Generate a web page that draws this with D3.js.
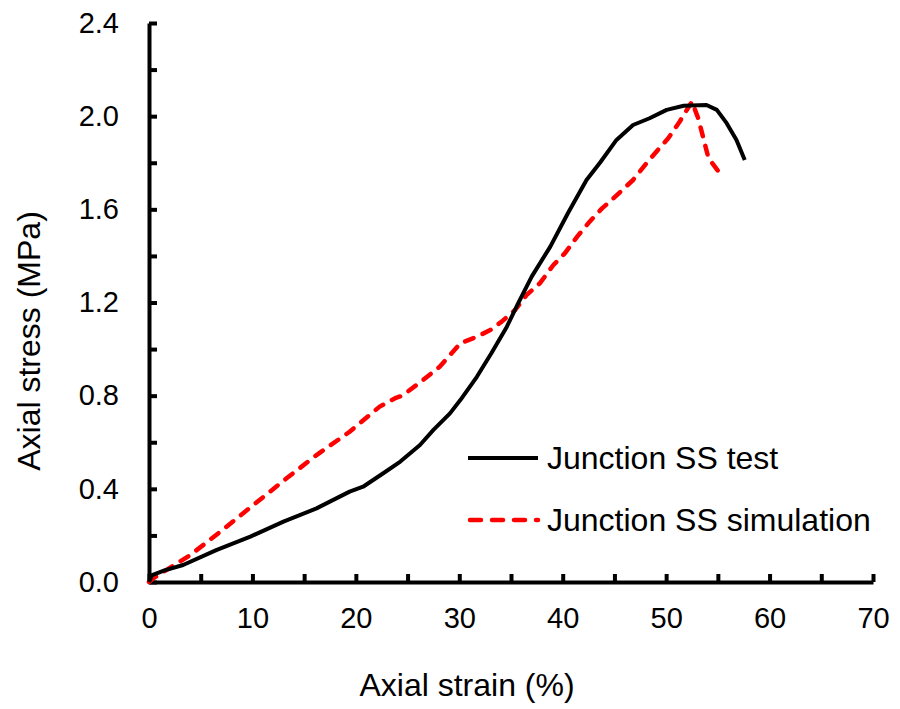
<html>
<head>
<script src="https://d3js.org/d3.v7.min.js"></script>
<style>
body { margin: 0; background: #fff; }
svg { display: block; font-family: 'Liberation Sans', Arial, sans-serif; }
</style>
</head>
<body>
<div id="chart"></div>
<script>
// test curve (black)
var testStrain = [0, 0.3, 1.5, 3.3, 6.5, 9.8, 13.0, 16.2, 19.4, 20.7, 22.65, 24.3, 26.2, 27.5, 29.1, 30.1, 31.7, 33.1, 34.6, 35.7, 37.0, 38.8, 40.5, 42.3, 43.6, 45.2, 46.8, 48.4, 50.05, 51.7, 53.9, 54.9, 55.85, 56.8, 57.6];
var testStress = [0, 0.03, 0.05, 0.073, 0.137, 0.195, 0.259, 0.316, 0.388, 0.409, 0.467, 0.517, 0.588, 0.653, 0.724, 0.781, 0.881, 0.982, 1.096, 1.197, 1.311, 1.44, 1.583, 1.726, 1.80, 1.898, 1.962, 1.991, 2.027, 2.045, 2.048, 2.027, 1.970, 1.898, 1.812];

// simulation curve (red dashed)
var simStrain = [0, 0.4, 2.0, 4.0, 6.9, 10.1, 13.3, 16.2, 19.4, 22.3, 23.8, 24.5, 26.5, 28.1, 30.1, 31.7, 33.0, 34.1, 35.4, 36.5, 37.8, 39.1, 40.2, 41.4, 42.6, 43.8, 44.9, 46.8, 48.1, 49.2, 50.2, 51.3, 52.1, 52.5, 53.1, 54.1, 55.0];
var simStress = [0, 0.016, 0.06, 0.116, 0.216, 0.331, 0.445, 0.545, 0.645, 0.753, 0.789, 0.80, 0.867, 0.924, 1.025, 1.053, 1.082, 1.118, 1.168, 1.232, 1.283, 1.361, 1.411, 1.483, 1.547, 1.604, 1.647, 1.726, 1.798, 1.855, 1.905, 1.976, 2.034, 2.062, 1.991, 1.819, 1.766];

var xTicks = d3.range(0, 71, 5);
var yTicks = d3.range(0, 13).map(function(i){ return i * 0.2; });
var legendNames = ["Junction SS test", "Junction SS simulation"];

var svg = d3.select("#chart").append("svg").attr("width", 900).attr("height", 709);
svg.append("rect").attr("width", 900).attr("height", 709).attr("fill", "#fff");

var x = d3.scaleLinear().domain([0, 70]).range([149, 873]);
var y = d3.scaleLinear().domain([0, 2.4]).range([582, 23]);

function zip(a, b){ return a.map(function(v, i){ return [v, b[i]]; }); }

var line = d3.line()
    .x(function(d){ return x(d[0]); })
    .y(function(d){ return y(d[1]); });

// x axis
var xAxis = svg.append("g").attr("transform", "translate(0,582)")
  .call(d3.axisBottom(x).tickValues(xTicks).tickSize(-8).tickSizeOuter(0).tickPadding(25)
    .tickFormat(function(d){ return d % 10 === 0 ? d : ""; }));

// y axis
var yAxis = svg.append("g").attr("transform", "translate(149,0)")
  .call(d3.axisLeft(y).tickValues(yTicks).tickSize(-8).tickSizeOuter(0).tickPadding(30)
    .tickFormat(function(d, i){ return i % 2 === 0 ? d3.format(".1f")(d) : ""; }));

[xAxis, yAxis].forEach(function(a){
  a.select(".domain").attr("stroke", "#000").attr("stroke-width", 4);
  a.selectAll(".tick line").attr("stroke", "#000").attr("stroke-width", 4);
  a.selectAll(".tick text").attr("fill", "#000").style("font-size", "29px");
});

svg.append("path").datum(zip(simStrain, simStress))
  .attr("fill", "none").attr("stroke", "#ff0000").attr("stroke-width", 4.5)
  .attr("stroke-dasharray", "9,10").attr("stroke-linecap", "round").attr("stroke-linejoin", "round")
  .attr("d", line);

svg.append("path").datum(zip(testStrain, testStress))
  .attr("fill", "none").attr("stroke", "#000").attr("stroke-width", 4)
  .attr("stroke-linejoin", "round")
  .attr("d", line);

// axis titles
svg.append("text").attr("x", 467).attr("y", 696).attr("text-anchor", "middle")
  .style("font-size", "32px").text("Axial strain (%)");
svg.append("text").attr("transform", "translate(40,341) rotate(-90)").attr("text-anchor", "middle")
  .style("font-size", "32px").text("Axial stress (MPa)");

// legend
var leg = svg.append("g");
leg.append("line").attr("x1", 468).attr("x2", 538).attr("y1", 458).attr("y2", 458)
  .attr("stroke", "#000").attr("stroke-width", 4);
leg.append("line").attr("x1", 470).attr("x2", 538).attr("y1", 520).attr("y2", 520)
  .attr("stroke", "#ff0000").attr("stroke-width", 4.5).attr("stroke-dasharray", "11,11")
  .attr("stroke-linecap", "round");
leg.selectAll("text.lg").data(legendNames).enter().append("text")
  .attr("class", "lg").attr("x", 547).attr("y", function(d, i){ return 469 + i * 62; })
  .style("font-size", "32px").text(function(d){ return d; });
</script>
</body>
</html>
